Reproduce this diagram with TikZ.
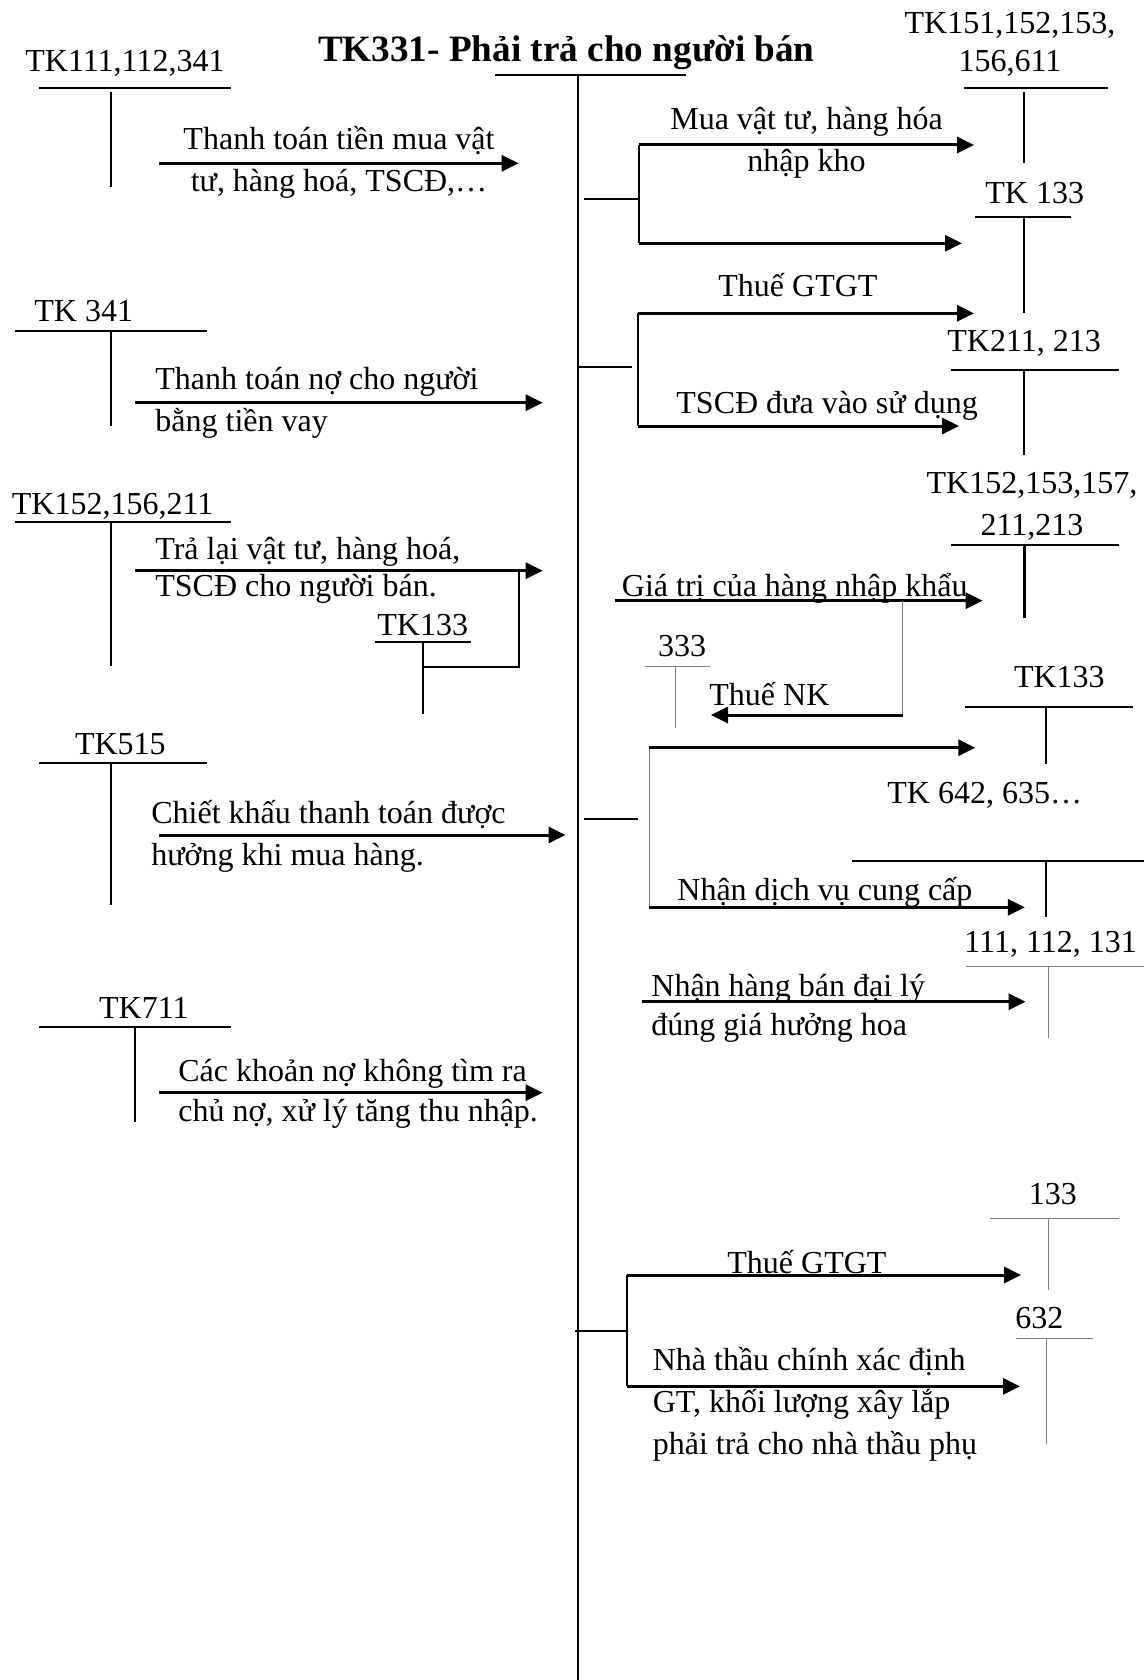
\documentclass[tikz,border=0pt]{standalone}
\usepackage{fontspec}
\setmainfont{Liberation Serif}
\usetikzlibrary{arrows.meta}

\begin{document}
\begin{tikzpicture}[x=0.5pt, y=-0.5pt, font=\fontsize{16}{21}\selectfont,
  tline/.style={line width=1.1pt},
  sline/.style={line width=0.7pt},
  gline/.style={line width=0.5pt, gray},
  arr/.style={line width=1.5pt, -{Triangle[length=8.5pt,width=8pt]}},
  lbl/.style={inner sep=0pt, anchor=base west},
  note/.style={inner sep=0pt, anchor=base west, align=left},
  cnote/.style={inner sep=0pt, anchor=base, align=center}]
\useasboundingbox (0,0) rectangle (1144,1680);

% main account
\node (title) [lbl, font=\fontsize{18.6}{22}\selectfont\bfseries] at (317.6,62) {TK331- Phải trả cho người bán};
\coordinate (mtop) at (578,75);
\coordinate (mbot) at (578,1680);
\draw[tline] (495,75) -- (686,75);
\draw[tline] (mtop) -- (mbot);

% left accounts
\node (l111) [lbl] at (25,71.7) {TK111,112,341};
\draw[tline] (39,88.3) -- (231,88.3) (111,91.7) -- (111,186.7);
\coordinate (a1s) at (159,163.3);
\coordinate (a1e) at (518.6,163.3);
\draw[arr] (a1s) -- (a1e);
\node (t1) [cnote] at (339,191.7) {Thanh toán tiền mua vật\\tư, hàng hoá, TSCĐ,…};

\node (l341) [lbl] at (34,321.7) {TK 341};
\draw[tline] (14.5,330.7) -- (207,330.7) (111,331) -- (111,426);
\coordinate (a2s) at (135,402.7);
\coordinate (a2e) at (542.7,402.7);
\draw[arr] (a2s) -- (a2e);
\node (t2) [note] at (155,431.7) {Thanh toán nợ cho người\\bằng tiền vay};

\node (l152) [lbl] at (11.5,514) {TK152,156,211};
\draw[tline] (14.5,521.7) -- (231,521.7) (111,522) -- (111,666);
\coordinate (a3s) at (135,570.7);
\coordinate (a3e) at (542.7,570.7);
\coordinate (a3k) at (519.3,570.7);
\draw[arr] (a3s) -- (a3e);
\node (t3) [note] at (155,596.7) {Trả lại vật tư, hàng hoá,\\[-2.5pt]TSCĐ cho người bán.};
\node (l133a) [lbl] at (377,635) {TK133};
\draw[tline] (375,642.3) -- (470.7,642.3) (423,642.3) -- (423,714.3);
\coordinate (a3b) at (423,666.7);
\draw[tline] (a3b) -| (a3k);

\node (l515) [lbl] at (74.6,754) {TK515};
\draw[tline] (39,762.7) -- (206.7,762.7) (111,763) -- (111,905);
\coordinate (a4s) at (159,835);
\coordinate (a4e) at (565.6,835);
\draw[arr] (a4s) -- (a4e);
\node (t4) [note] at (151,865) {Chiết khấu thanh toán được\\hưởng khi mua hàng.};

\node (l711) [lbl] at (98.7,1018.3) {TK711};
\draw[tline] (39,1026.7) -- (231,1026.7) (134.7,1027) -- (134.7,1121.7);
\coordinate (a5s) at (159,1092.7);
\coordinate (a5e) at (542.7,1092.7);
\draw[arr] (a5s) -- (a5e);
\node (t5) [note] at (178,1121.7) {Các khoản nợ không tìm ra\\[-1pt]chủ nợ, xử lý tăng thu nhập.};

% right accounts
\node (r151) [cnote] at (1010,71.7) {TK151,152,153,\\[-1.8pt]156,611};
\draw[tline] (964,88.3) -- (1107.5,88.3) (1023.7,91.7) -- (1023.7,163.3);
\node (r133a) [lbl] at (985,203.3) {TK 133};
\draw[tline] (975,216.7) -- (1071,216.7) (1023.7,217) -- (1023.7,312.7);
\node (r211) [lbl] at (947,351.7) {TK211, 213};
\draw[tline] (951,370) -- (1118.6,370) (1023.7,370) -- (1023.7,455);
\node (r152) [cnote] at (1032,535) {TK152,153,157,\\211,213};
\draw[tline] (951,545) -- (1118.6,545) (1024.4,545) -- (1024.4,618.3);
\node (r333) [lbl] at (657.6,656) {333};
\draw[gline] (645,666.7) -- (709.7,666.7) (675.5,667) -- (675.5,728.3);
\node (r133b) [lbl] at (1013.6,687.3) {TK133};
\draw[tline] (965,706.7) -- (1132.8,706.7) (1046,707) -- (1046,764);
\node (r642) [lbl] at (887,803.3) {TK 642, 635…};
\draw[tline] (852,860.7) -- (1144,860.7) (1046,861) -- (1046,917.3);
\node (r111) [lbl] at (964,952.7) {111, 112, 131};
\draw[gline] (966,966) -- (1144,966) (1048,966) -- (1048,1038.3);
\node (r133c) [lbl] at (1028.5,1204) {133};
\draw[gline] (990,1218.3) -- (1118.6,1218.3) (1048,1218.3) -- (1048,1290);
\node (r632) [lbl] at (1015,1328.3) {632};
\draw[gline] (1016,1338.3) -- (1092.6,1338.3) (1046,1338.3) -- (1046,1444);

% purchases and VAT
\coordinate (b1) at (584,199.3);
\coordinate (b1k) at (637.5,199.3);
\coordinate (b1t) at (639,145);
\coordinate (b1b) at (639,243.3);
\coordinate (b1e) at (974,145);
\coordinate (b2e) at (962,243.3);
\draw[tline] (b1) -- (b1k);
\draw[sline] (b1t) -- (b1b);
\draw[arr] (b1t) -- (b1e);
\draw[arr] (b1b) -- (b2e);
\node (t6) [cnote] at (806.5,171.7) {Mua vật tư, hàng hóa\\nhập kho};

% fixed assets
\coordinate (c1) at (578,367.3);
\coordinate (c1k) at (631.5,367.3);
\coordinate (c1t) at (638,313.3);
\coordinate (c1b) at (638,426);
\coordinate (c1e) at (974,313.3);
\coordinate (c2e) at (959,426);
\draw[tline] (c1) -- (c1k);
\draw[sline] (c1t) -- (c1b);
\draw[arr] (c1t) -- (c1e);
\draw[arr] (c1b) -- (c2e);
\node (t7) [lbl] at (718,296.7) {Thuế GTGT};
\node (t8) [lbl] at (676,413.3) {TSCĐ đưa vào sử dụng};

% imports
\coordinate (d1s) at (615,600.7);
\coordinate (d1e) at (982.7,600.7);
\coordinate (d1k) at (902.6,600.7);
\coordinate (d2s) at (902.6,715);
\coordinate (d2e) at (711,715);
\draw[arr] (d1s) -- (d1e);
\draw[gline] (d1k) -- (d2s);
\draw[arr] (d2s) -- (d2e);
\node (t9) [lbl] at (621.5,596) {Giá trị của hàng nhập khẩu};
\node (t10) [lbl] at (709,705) {Thuế NK};

% services
\coordinate (e1) at (584,819.3);
\coordinate (e1k) at (637.5,819.3);
\coordinate (e1t) at (649.4,747.7);
\coordinate (e1b) at (649.4,907.3);
\coordinate (e1e) at (975.3,747.7);
\coordinate (e2e) at (1024.8,907.3);
\draw[tline] (e1) -- (e1k);
\draw[gline] (e1t) -- (e1b);
\draw[arr] (e1t) -- (e1e);
\draw[arr] (e1b) -- (e2e);
\node (t11) [lbl] at (677,900) {Nhận dịch vụ cung cấp};

% agency goods
\coordinate (f1s) at (642,1001.7);
\coordinate (f1e) at (1025.5,1001.7);
\draw[arr] (f1s) -- (f1e);
\node (t12) [note] at (651,1035.7) {Nhận hàng bán đại lý\\[-1.5pt]đúng giá hưởng hoa};

% subcontractor
\coordinate (g1) at (575,1330.7);
\coordinate (g1k) at (627,1330.7);
\coordinate (g1t) at (627,1275);
\coordinate (g1b) at (627,1386.3);
\coordinate (g1e) at (1021,1275);
\coordinate (g2e) at (1020,1386.3);
\draw[tline] (g1) -- (g1k);
\draw[sline] (g1t) -- (g1b);
\draw[arr] (g1t) -- (g1e);
\draw[arr] (g1b) -- (g2e);
\node (t13) [lbl] at (727,1273.3) {Thuế GTGT};
\node (t14) [note] at (652.4,1454) {Nhà thầu chính xác định\\GT, khối lượng xây lắp\\phải trả cho nhà thầu phụ};
\end{tikzpicture}
\end{document}
